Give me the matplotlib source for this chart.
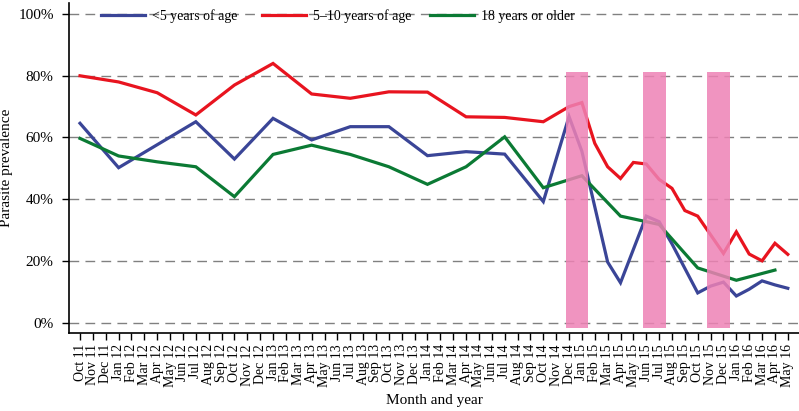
import matplotlib
matplotlib.use("Agg")
import matplotlib.pyplot as plt
import numpy as np

plt.rcParams['font.family'] = ['Liberation Serif', 'DejaVu Serif']

month_labels = ['Oct 11', 'Nov 11', 'Dec 11',
                'Jan 12', 'Feb 12', 'Mar 12', 'Apr 12', 'May 12', 'Jun 12', 'Jul 12', 'Aug 12', 'Sep 12', 'Oct 12', 'Nov 12', 'Dec 12',
                'Jan 13', 'Feb 13', 'Mar 13', 'Apr 13', 'May 13', 'Jun 13', 'Jul 13', 'Aug 13', 'Sep 13', 'Oct 13', 'Nov 13', 'Dec 13',
                'Jan 14', 'Feb 14', 'Mar 14', 'Apr 14', 'May 14', 'Jun 14', 'Jul 14', 'Aug 14', 'Sep 14', 'Oct 14', 'Nov 14', 'Dec 14',
                'Jan 15', 'Feb 15', 'Mar 15', 'Apr 15', 'May 15', 'Jun 15', 'Jul 15', 'Aug 15', 'Sep 15', 'Oct 15', 'Nov 15', 'Dec 15',
                'Jan 16', 'Feb 16', 'Mar 16', 'Apr 16', 'May 16']

under5_months = ['Oct 11', 'Jan 12', 'Jul 12', 'Oct 12', 'Jan 13', 'Apr 13', 'Jul 13', 'Oct 13', 'Jan 14',
                 'Apr 14', 'Jul 14', 'Oct 14', 'Dec 14', 'Jan 15', 'Mar 15', 'Apr 15', 'Jun 15', 'Jul 15',
                 'Aug 15', 'Oct 15', 'Nov 15', 'Dec 15', 'Jan 16', 'Feb 16', 'Mar 16', 'Apr 16', 'May 16']
under5_values = [64.6, 50.2, 65.1, 53.0, 66.2, 59.2, 63.5, 63.5, 54.1,
                 55.4, 54.6, 39.2, 66.8, 55.5, 19.6, 12.9, 34.5, 32.7,
                 25.5, 9.6, 11.8, 13.1, 8.6, 10.8, 13.5, 12.2, 11.1]

age5to10_months = ['Oct 11', 'Jan 12', 'Apr 12', 'Jul 12', 'Oct 12', 'Jan 13', 'Apr 13', 'Jul 13', 'Oct 13',
                   'Jan 14', 'Apr 14', 'Jul 14', 'Oct 14', 'Dec 14', 'Jan 15', 'Feb 15', 'Mar 15', 'Apr 15',
                   'May 15', 'Jun 15', 'Jul 15', 'Aug 15', 'Sep 15', 'Oct 15', 'Dec 15', 'Jan 16', 'Feb 16',
                   'Mar 16', 'Apr 16', 'May 16']
age5to10_values = [80.0, 78.0, 74.5, 67.3, 77.0, 84.0, 74.1, 72.7, 74.8,
                   74.7, 66.7, 66.5, 65.1, 70.0, 71.3, 58.1, 50.5, 46.7,
                   51.9, 51.4, 46.4, 43.5, 36.3, 34.5, 22.4, 29.4, 22.2,
                   20.0, 25.7, 22.1]

adult_months = ['Oct 11', 'Jan 12', 'Apr 12', 'Jul 12', 'Oct 12', 'Jan 13', 'Apr 13', 'Jul 13', 'Oct 13',
                'Jan 14', 'Apr 14', 'Jul 14', 'Oct 14', 'Jan 15', 'Apr 15', 'Jul 15', 'Oct 15', 'Jan 16', 'Apr 16']
adult_values = [59.7, 54.0, 52.1, 50.5, 40.8, 54.5, 57.5, 54.5, 50.5,
                44.8, 50.5, 60.2, 43.7, 47.6, 34.5, 31.8, 17.7, 13.7, 17.0]

campaign_start = ['Dec 14', 'Jun 15', 'Nov 15']
campaign_end = ['Jan 15', 'Jul 15', 'Dec 15']

y_ticks = [0, 20, 40, 60, 80, 100]
y_tick_labels = ['0%', '20%', '40%', '60%', '80%', '100%']

series_labels = ['<5 years of age', '5–10 years of age', '18 years or older']
series_colors = ['#3a4597', '#e8141f', '#0b7a34']

idx = {m: i for i, m in enumerate(month_labels)}

fig = plt.figure(figsize=(7.99, 4.11), dpi=100)
ax = fig.add_axes([69 / 799, 78 / 411, 730 / 799, 330 / 411])

for y in y_ticks:
    ax.axhline(y, color='#808080', lw=1.0, ls=(0, (7, 4.5)), zorder=1)

series = [(under5_months, under5_values), (age5to10_months, age5to10_values), (adult_months, adult_values)]
handles = []
for (ms, vs), lab, col in zip(series, series_labels, series_colors):
    xs = [idx[m] for m in ms]
    h, = ax.plot(xs, vs, color=col, lw=2.3, label=lab, zorder=3, solid_joinstyle='miter')
    handles.append(h)

for s, e in zip(campaign_start, campaign_end):
    x0 = idx[s] - 0.25
    x1 = idx[e] + 0.5
    ax.bar(x0, 83.0, width=x1 - x0, bottom=-1.8, align='edge', color='#ee82b5', alpha=0.85,
           lw=0, zorder=4)

ax.set_xlim(-0.855, 55.87)
ax.set_ylim(-3.4, 103.6)
ax.set_xticks(range(len(month_labels)))
ax.set_xticklabels(month_labels, rotation=90, fontsize=10)
ax.set_yticks(y_ticks)
ax.set_yticklabels(y_tick_labels, fontsize=11)
ax.tick_params(axis='both', direction='out', length=5, width=1, colors='black')
ax.tick_params(axis='y', pad=6)
ax.tick_params(axis='x', pad=3)

for sp in ['top', 'right']:
    ax.spines[sp].set_visible(False)
for sp in ['left', 'bottom']:
    ax.spines[sp].set_linewidth(1.2)

ax.set_xlabel('Month and year', fontsize=11, labelpad=5)
ax.set_ylabel('Parasite prevalence', fontsize=11, labelpad=4)

legend_x = [101, 262, 430]
for h, lab, lx in zip(handles, series_labels, legend_x):
    fig.legend(handles=[h], labels=[lab], loc='center left',
               bbox_to_anchor=(lx / 799, 0.961), frameon=False, fontsize=10,
               handlelength=3.2, handletextpad=0.45, borderpad=0, borderaxespad=0)

fig.savefig('out.png', dpi=100)
